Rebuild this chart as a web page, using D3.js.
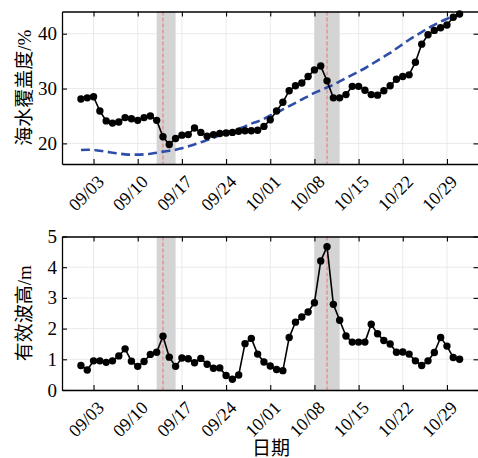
<!DOCTYPE html>
<html>
<head>
<meta charset="utf-8">
<script src="https://cdn.jsdelivr.net/npm/d3@7"></script>
<style>
body { margin: 0; background: #fff; }
text { font-family: "Times New Roman", "Liberation Serif", "DejaVu Serif", "Noto Sans CJK SC", serif; }
</style>
</head>
<body>
<div id="chart"></div>
<script>
/* data, one value per day from 09/01 to 10/31 */
var firstDay = "2023-09-01",
    lastDay = "2023-10-31";

var coverage = [28.1, 28.3, 28.5, 25.9, 24.1, 23.7, 23.9, 24.7, 24.5, 24.2,
    24.7, 25.0, 24.2, 21.2, 19.8, 20.9, 21.5, 21.6, 22.8, 22.0,
    21.3, 21.6, 21.8, 21.9, 22.0, 22.2, 22.3, 22.3, 22.4, 23.1,
    24.3, 25.9, 27.5, 29.6, 30.5, 31.0, 32.2, 33.4, 34.1, 31.4,
    28.3, 28.3, 28.9, 30.4, 30.4, 29.7, 28.9, 28.8, 29.6, 30.5,
    31.7, 32.2, 32.5, 34.8, 38.1, 39.8, 40.6, 41.1, 41.6, 43.0, 43.6];

var coverageTrend = [18.8, 18.85, 18.8, 18.65, 18.5, 18.3, 18.15, 18.0, 17.95, 17.95,
    18.0, 18.1, 18.3, 18.5, 18.65, 18.85, 19.1, 19.45, 19.8, 20.2,
    20.6, 21.0, 21.5, 21.9, 22.3, 22.7, 23.1, 23.6, 24.0, 24.5,
    25.1, 25.6, 26.2, 26.8, 27.4, 28.0, 28.6, 29.2, 29.7, 30.2,
    30.7, 31.3, 31.9, 32.5, 33.1, 33.7, 34.4, 35.1, 35.8, 36.5,
    37.3, 38.1, 38.9, 39.6, 40.3, 41.0, 41.6, 42.2, 42.7, 43.2, 43.6];

var waveHeight = [0.80, 0.65, 0.95, 0.95, 0.90, 0.95, 1.11, 1.34, 0.94, 0.77,
    0.93, 1.16, 1.23, 1.75, 1.07, 0.77, 1.04, 1.02, 0.89, 1.03,
    0.84, 0.71, 0.72, 0.47, 0.35, 0.49, 1.51, 1.68, 1.17, 0.91,
    0.78, 0.67, 0.63, 1.71, 2.21, 2.38, 2.54, 2.84, 4.20, 4.67,
    2.79, 2.27, 1.76, 1.56, 1.56, 1.56, 2.14, 1.83, 1.61, 1.50,
    1.23, 1.24, 1.17, 0.95, 0.80, 0.95, 1.22, 1.71, 1.43, 1.06, 1.00];

var tickDays = ["2023-09-03", "2023-09-10", "2023-09-17", "2023-09-24",
    "2023-10-01", "2023-10-08", "2023-10-15", "2023-10-22", "2023-10-29"];

var stormBands = [["2023-09-13", "2023-09-16"], ["2023-10-08", "2023-10-12"]];
var stormPeaks = ["2023-09-14", "2023-10-10"];

var coverageTicks = [20, 30, 40];
var waveTicks = [0, 1, 2, 3, 4, 5];

function plotAll() {
    var parseDate = d3.timeParse("%Y-%m-%d");
    var fmt = d3.timeFormat("%m/%d");
    var days = d3.timeDay.range(parseDate(firstDay), d3.timeDay.offset(parseDate(lastDay), 1));
    var serif = "'Times New Roman', 'Liberation Serif', 'DejaVu Serif', serif";

    var width = 478,
        height = 458;

    var svg = d3.select("#chart").append("svg")
        .attr("width", width)
        .attr("height", height);

    var x = d3.scaleTime()
        .domain([parseDate("2023-08-29"), parseDate("2023-11-03")])
        .range([62, 478.5]);

    var ticks = tickDays.map(parseDate);

    function panel(top, bottom, yDomain, yTicks, label, series, trend) {
        var y = d3.scaleLinear()
            .domain(yDomain)
            .range([bottom, top]);

        var g = svg.append("g");

        // grid
        g.selectAll(".gx")
            .data(ticks)
            .enter().append("line")
            .attr("x1", function(d) { return x(d); })
            .attr("x2", function(d) { return x(d); })
            .attr("y1", top)
            .attr("y2", bottom)
            .attr("stroke", "#e4e4e4")
            .attr("stroke-width", 0.8);

        g.selectAll(".gy")
            .data(yTicks)
            .enter().append("line")
            .attr("x1", x.range()[0])
            .attr("x2", x.range()[1])
            .attr("y1", function(d) { return y(d); })
            .attr("y2", function(d) { return y(d); })
            .attr("stroke", "#e4e4e4")
            .attr("stroke-width", 0.8);

        // storm bands
        g.selectAll(".band")
            .data(stormBands)
            .enter().append("rect")
            .attr("x", function(d) { return x(parseDate(d[0])); })
            .attr("width", function(d) { return x(parseDate(d[1])) - x(parseDate(d[0])); })
            .attr("y", top)
            .attr("height", bottom - top)
            .attr("fill", "#d4d4d4");

        g.selectAll(".peak")
            .data(stormPeaks)
            .enter().append("line")
            .attr("x1", function(d) { return x(parseDate(d)); })
            .attr("x2", function(d) { return x(parseDate(d)); })
            .attr("y1", top)
            .attr("y2", bottom)
            .attr("stroke", "#f07070")
            .attr("stroke-width", 1)
            .attr("stroke-dasharray", "4,2");

        if (trend) {
            var tline = d3.line()
                .curve(d3.curveMonotoneX)
                .x(function(d, i) { return x(days[i]); })
                .y(function(d) { return y(d); });
            g.append("path")
                .attr("d", tline(trend))
                .attr("fill", "none")
                .attr("stroke", "#2f4eaa")
                .attr("stroke-width", 2.6)
                .attr("stroke-dasharray", "9,4.5");
        }

        var line = d3.line()
            .x(function(d, i) { return x(days[i]); })
            .y(function(d) { return y(d); });

        g.append("path")
            .attr("d", line(series))
            .attr("fill", "none")
            .attr("stroke", "#000")
            .attr("stroke-width", 1.6);

        g.selectAll(".dot")
            .data(series)
            .enter().append("circle")
            .attr("cx", function(d, i) { return x(days[i]); })
            .attr("cy", function(d) { return y(d); })
            .attr("r", 3.7)
            .attr("fill", "#000");

        // axes with inward ticks
        var xb = g.append("g")
            .attr("transform", "translate(0," + bottom + ")")
            .call(d3.axisBottom(x).tickValues(ticks).tickSizeInner(-5).tickSizeOuter(0).tickFormat(fmt));
        xb.selectAll("text")
            .attr("y", 0)
            .attr("dy", 0)
            .attr("text-anchor", "end")
            .attr("transform", "translate(11,19) rotate(-45)")
            .style("font-size", "18px")
            .style("font-family", serif)
            .attr("fill", "#000");

        g.append("g")
            .attr("transform", "translate(0," + top + ")")
            .call(d3.axisTop(x).tickValues(ticks).tickSizeInner(-5).tickSizeOuter(0).tickFormat(""));

        var yl = g.append("g")
            .attr("transform", "translate(" + x.range()[0] + ",0)")
            .call(d3.axisLeft(y).tickValues(yTicks).tickSizeInner(-5).tickSizeOuter(0)
                .tickPadding(5).tickFormat(d3.format("d")));
        yl.selectAll("text")
            .style("font-size", "19px")
            .style("font-family", serif)
            .attr("fill", "#000");

        g.append("g")
            .attr("transform", "translate(" + x.range()[1] + ",0)")
            .call(d3.axisRight(y).tickValues(yTicks).tickSizeInner(-5).tickSizeOuter(0).tickFormat(""));

        g.selectAll(".domain")
            .attr("stroke", "#000")
            .attr("stroke-width", 1.3);
        g.selectAll(".tick line")
            .attr("stroke", "#000")
            .attr("stroke-width", 1.1);

        g.append("text")
            .attr("transform", "translate(24," + ((top + bottom) / 2) + ") rotate(-90)")
            .attr("text-anchor", "middle")
            .attr("dy", "0.35em")
            .style("font-size", "19px")
            .text(label);
    }

    panel(11.5, 164, [16.24, 44.05], coverageTicks, "海水覆盖度/%", coverage, coverageTrend);
    panel(236.5, 390, [0, 5], waveTicks, "有效波高/m", waveHeight, null);

    svg.append("text")
        .attr("x", 271)
        .attr("y", 455)
        .attr("text-anchor", "middle")
        .style("font-size", "19px")
        .text("日期");
}

plotAll();
</script>
</body>
</html>
